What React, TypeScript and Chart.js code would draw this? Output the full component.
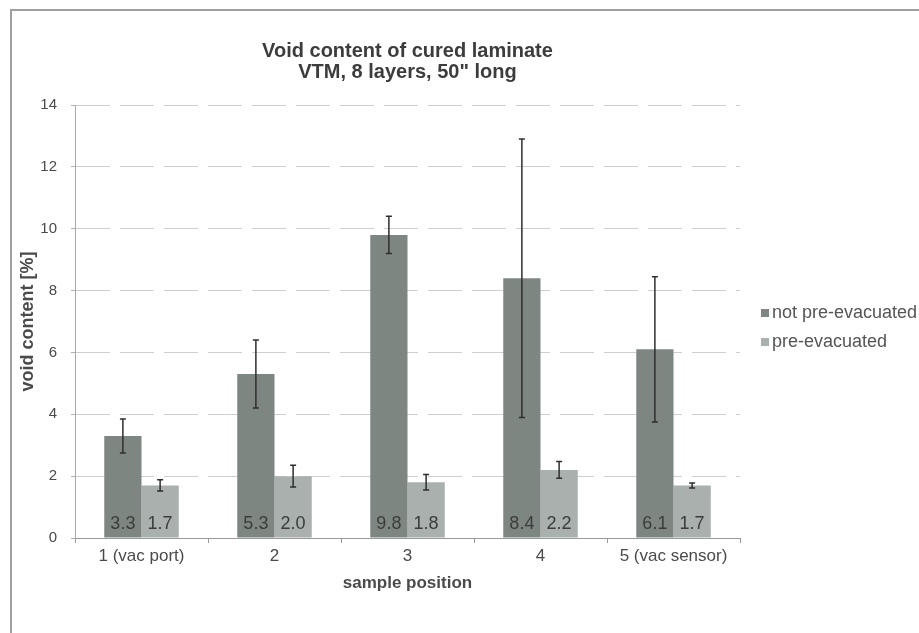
import React, { useEffect, useRef } from "react";
import { Chart, registerables } from "chart.js";

Chart.register(...registerables);

// Sample positions along the 50" laminate
const positions = ["1 (vac port)", "2", "3", "4", "5 (vac sensor)"];

// Mean void content [%] and standard deviation per position
const notPreEvacuated = [3.3, 5.3, 9.8, 8.4, 6.1];
const notPreEvacuatedErr = [0.55, 1.1, 0.6, 4.5, 2.35];
const preEvacuated = [1.7, 2.0, 1.8, 2.2, 1.7];
const preEvacuatedErr = [0.18, 0.35, 0.25, 0.27, 0.08];

const seriesNames = ["not pre-evacuated", "pre-evacuated"];
const seriesColors = ["#7e8682", "#a9b0ad"];

const titleLines = ["Void content of cured laminate", 'VTM, 8 layers, 50" long'];
const yAxisTitle = "void content [%]";
const xAxisTitle = "sample position";

const FONT = "'Liberation Sans', Arial, sans-serif";

const errorsByDataset = [notPreEvacuatedErr, preEvacuatedErr];

// Error whiskers and value labels at the foot of each bar
const barExtras = {
  id: "barExtras",
  afterDatasetsDraw(chart: any) {
    const { ctx } = chart;
    const y = chart.scales.y;
    chart.data.datasets.forEach((ds: any, di: number) => {
      const meta = chart.getDatasetMeta(di);
      const errs = errorsByDataset[di];
      meta.data.forEach((bar: any, i: number) => {
        const v = ds.data[i];
        const e = errs[i];
        const top = y.getPixelForValue(v + e);
        const bot = y.getPixelForValue(v - e);
        ctx.save();
        ctx.strokeStyle = "#2e2e2e";
        ctx.lineWidth = 1.5;
        ctx.beginPath();
        ctx.moveTo(bar.x, top);
        ctx.lineTo(bar.x, bot);
        ctx.moveTo(bar.x - 3, top);
        ctx.lineTo(bar.x + 3, top);
        ctx.moveTo(bar.x - 3, bot);
        ctx.lineTo(bar.x + 3, bot);
        ctx.stroke();
        ctx.restore();

        ctx.save();
        ctx.font = `18px ${FONT}`;
        ctx.fillStyle = "#3a3d3b";
        ctx.textAlign = "center";
        ctx.textBaseline = "alphabetic";
        ctx.fillText(v.toFixed(1), bar.x, y.getPixelForValue(0) - 9);
        ctx.restore();
      });
    });
  },
};

// Chart frame, title and legend
const decorations = {
  id: "decorations",
  beforeDraw(chart: any) {
    const { ctx, width, height } = chart;
    ctx.save();
    ctx.fillStyle = "#ffffff";
    ctx.fillRect(0, 0, width, height);
    ctx.strokeStyle = "#a0a0a0";
    ctx.lineWidth = 2;
    ctx.beginPath();
    ctx.moveTo(11, height);
    ctx.lineTo(11, 10);
    ctx.lineTo(width, 10);
    ctx.stroke();
    ctx.restore();
  },
  afterDraw(chart: any) {
    const { ctx, chartArea } = chart;
    ctx.save();
    ctx.font = `bold 20px ${FONT}`;
    ctx.fillStyle = "#3c3c3c";
    ctx.textAlign = "center";
    ctx.textBaseline = "alphabetic";
    const cx = (chartArea.left + chartArea.right) / 2;
    titleLines.forEach((t, i) => ctx.fillText(t, cx, 57 + i * 21));

    ctx.font = `18px ${FONT}`;
    ctx.textAlign = "left";
    ctx.textBaseline = "middle";
    seriesNames.forEach((name, i) => {
      const ly = 313 + i * 29;
      ctx.fillStyle = seriesColors[i];
      ctx.fillRect(761, ly - 4, 8, 8);
      ctx.fillStyle = "#555555";
      ctx.fillText(name, 772, ly);
    });
    ctx.restore();
  },
};

export default function App() {
  const canvasRef = useRef<HTMLCanvasElement | null>(null);

  useEffect(() => {
    if (!canvasRef.current) return;
    const chart = new Chart(canvasRef.current, {
      type: "bar",
      data: {
        labels: positions,
        datasets: [
          {
            label: seriesNames[0],
            data: notPreEvacuated,
            backgroundColor: seriesColors[0],
            categoryPercentage: 0.56,
            barPercentage: 1.0,
          },
          {
            label: seriesNames[1],
            data: preEvacuated,
            backgroundColor: seriesColors[1],
            categoryPercentage: 0.56,
            barPercentage: 1.0,
          },
        ],
      },
      options: {
        responsive: false,
        animation: false,
        layout: { padding: { top: 105, right: 179, left: 0, bottom: 0 } },
        plugins: {
          legend: { display: false },
          title: { display: false },
          tooltip: { enabled: false },
        },
        scales: {
          x: {
            afterFit: (s: any) => {
              s.height = 95;
            },
            grid: {
              display: true,
              drawOnChartArea: false,
              drawTicks: true,
              tickLength: 5,
              offset: true,
              color: "#9a9a9a",
            },
            border: { display: true, color: "#9a9a9a", width: 1 },
            ticks: {
              font: { family: FONT, size: 17 },
              color: "#4a4a4a",
              padding: 3,
              maxRotation: 0,
              autoSkip: false,
            },
            title: {
              display: true,
              text: xAxisTitle,
              font: { family: FONT, size: 17, weight: "bold" },
              color: "#4a4a4a",
              padding: { top: 0, bottom: 39 },
            },
          },
          y: {
            min: 0,
            max: 14,
            afterFit: (s: any) => {
              s.width = 75;
            },
            ticks: {
              stepSize: 2,
              font: { family: FONT, size: 15 },
              color: "#4a4a4a",
              padding: 14,
            },
            grid: {
              color: "#cfcfcf",
              tickLength: 4,
              tickColor: "#b0b0b0",
            },
            border: { display: true, color: "#a8a8a8", width: 1, dash: [34, 10] },
            title: {
              display: true,
              text: yAxisTitle,
              font: { family: FONT, size: 18, weight: "bold" },
              color: "#4a4a4a",
              padding: { top: 17, bottom: 0 },
            },
          },
        },
      },
      plugins: [decorations, barExtras],
    });
    return () => chart.destroy();
  }, []);

  return (
    <div style={{ position: "absolute", left: 0, top: 0, width: 919, height: 633 }}>
      <canvas ref={canvasRef} width={919} height={633} />
    </div>
  );
}
